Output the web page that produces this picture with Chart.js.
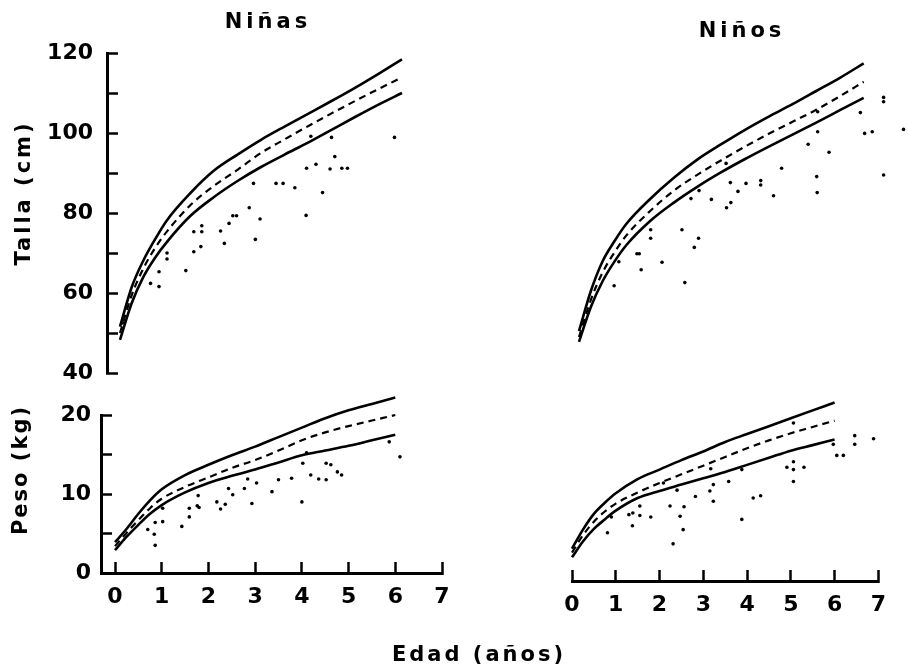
<!DOCTYPE html>
<html>
<head>
<meta charset="utf-8">
<script src="https://cdn.jsdelivr.net/npm/chart.js@4.4.1/dist/chart.umd.min.js"></script>
<style>
  html, body { margin: 0; padding: 0; background: #fff; }
  #wrap { position: relative; width: 908px; height: 668px; overflow: hidden; }
  #wrap canvas { position: absolute; left: 0; top: 0; }
  .lbl { position: absolute; font-family: 'DejaVu Sans', sans-serif; font-weight: bold; font-size: 21px;
         color: #000; white-space: nowrap; transform: translate(-50%, -50%); }
  .rot { transform: translate(-50%, -50%) rotate(-90deg); }
</style>
</head>
<body>
<div id="wrap">
  <canvas id="tl" width="908" height="668"></canvas>
  <canvas id="tr" width="908" height="668"></canvas>
  <canvas id="bl" width="908" height="668"></canvas>
  <canvas id="br" width="908" height="668"></canvas>
  <div class="lbl" style="left:268px; top:21px; letter-spacing:4px;">Niñas</div>
  <div class="lbl" style="left:742px; top:30px; letter-spacing:4px;">Niños</div>
  <div class="lbl rot" style="left:23px; top:193px; letter-spacing:3px;">Talla (cm)</div>
  <div class="lbl rot" style="left:20px; top:470px; letter-spacing:2px;">Peso (kg)</div>
  <div class="lbl" style="left:479px; top:654px; letter-spacing:3px;">Edad (años)</div>
</div>
<script>
// edades de las curvas de referencia (años)
const ages = [0, 0.25, 0.5, 0.75, 1, 1.5, 2, 2.5, 3, 3.5, 4, 4.5, 5, 5.5, 6];

// Talla (cm) - niñas
const tallaNinasSup = [51.6, 61.5, 68.2, 73.5, 78.2, 85.0, 90.6, 94.6, 98.3, 101.6, 104.8, 108.0, 111.3, 114.8, 118.4];
const tallaNinasMed = [50.0, 59.5, 66.2, 71.3, 75.4, 82.0, 86.8, 90.8, 95.0, 98.4, 101.7, 104.9, 108.0, 111.0, 113.9];
const tallaNinasInf = [48.3, 57.5, 64.1, 68.9, 72.8, 79.3, 84.0, 88.0, 91.5, 94.6, 97.6, 100.8, 104.0, 107.1, 110.0];
const tallaNinasEdad = [0.05, 0.65, 0.83, 0.83, 1.0, 1.0, 1.40, 1.57, 1.72, 1.57, 1.74, 1.74, 2.14, 2.22, 2.32, 2.40, 2.48,
  2.75, 2.84, 2.88, 2.98, 3.32, 3.47, 3.72, 3.96, 3.97, 4.06, 4.17, 4.31, 4.47, 4.50, 4.57, 4.72, 4.84, 5.84];
const tallaNinasValor = [52.5, 62.4, 61.6, 65.3, 68.5, 70.0, 65.6, 70.3, 71.6, 75.3, 75.3, 76.8, 75.5, 72.4, 77.4, 79.3, 79.3,
  81.3, 87.4, 73.4, 78.5, 87.4, 87.4, 86.3, 79.4, 91.2, 99.2, 92.2, 85.1, 91.0, 98.9, 94.1, 91.2, 91.2, 98.9];

// Talla (cm) - niños
const tallaNinosSup = [50.5, 60.5, 68.0, 73.0, 77.3, 83.5, 88.8, 93.4, 97.2, 100.8, 104.1, 107.2, 110.5, 113.8, 117.4];
const tallaNinosMed = [49.0, 58.3, 65.2, 70.2, 74.4, 80.5, 85.6, 89.6, 93.2, 96.6, 99.8, 102.8, 105.8, 109.2, 112.8];
const tallaNinosInf = [47.8, 56.5, 63.0, 67.9, 72.0, 78.0, 82.6, 86.6, 90.2, 93.5, 96.6, 99.6, 102.6, 105.7, 108.8];
const tallaNinosEdad = [0.74, 0.84, 1.22, 1.27, 1.31, 1.51, 1.51, 1.75, 2.17, 2.23, 2.36, 2.43, 2.52, 2.53, 2.79, 3.10, 3.11,
  3.19, 3.20, 3.35, 3.52, 3.83, 3.83, 4.10, 4.27, 4.83, 5.01, 5.02, 5.03, 5.03, 5.27, 5.93, 6.02, 6.18, 6.42, 6.42, 6.42, 6.84];
const tallaNinosValor = [61.8, 67.8, 69.8, 69.8, 65.8, 75.8, 73.7, 67.7, 75.8, 62.6, 83.6, 71.4, 73.7, 85.6, 83.4, 92.4, 81.3,
  87.6, 82.6, 85.4, 87.4, 88.1, 87.0, 84.3, 91.2, 97.2, 89.1, 85.1, 105.3, 100.3, 95.2, 105.1, 99.9, 100.3, 108.9, 107.8, 89.5, 100.9];

// Peso (kg) - niñas
const pesoNinasSup = [3.9, 5.6, 7.5, 9.2, 10.6, 12.4, 13.7, 14.9, 16.0, 17.2, 18.4, 19.6, 20.6, 21.4, 22.2];
const pesoNinasMed = [3.4, 5.1, 6.7, 8.2, 9.4, 10.9, 12.1, 13.3, 14.3, 15.5, 16.8, 17.8, 18.6, 19.3, 20.0];
const pesoNinasInf = [2.9, 4.6, 6.1, 7.5, 8.6, 10.2, 11.4, 12.3, 13.1, 14.0, 14.9, 15.5, 16.1, 16.8, 17.5];
const pesoNinasEdad = [0.70, 0.86, 0.84, 0.86, 1.02, 1.02, 1.43, 1.59, 1.59, 1.76, 1.80, 1.78, 2.18, 2.26, 2.36, 2.43, 2.52,
  2.77, 2.84, 2.93, 3.03, 3.36, 3.50, 3.78, 4.00, 4.02, 4.10, 4.19, 4.36, 4.52, 4.52, 4.62, 4.76, 4.85, 5.87, 6.10];
const pesoNinasValor = [5.5, 6.4, 4.9, 3.5, 6.5, 8.2, 5.9, 7.1, 8.2, 8.5, 8.3, 9.8, 9.0, 8.1, 8.7, 10.7, 9.9,
  10.7, 11.9, 8.8, 11.4, 10.3, 11.8, 12.0, 9.0, 13.9, 15.2, 12.4, 11.9, 11.8, 13.9, 13.7, 12.8, 12.4, 16.6, 14.7];

// Peso (kg) - niños
const pesoNinosSup = [4.1, 6.5, 8.5, 9.9, 11.1, 12.9, 14.1, 15.3, 16.4, 17.6, 18.6, 19.6, 20.6, 21.6, 22.6];
const pesoNinosMed = [3.6, 5.8, 7.5, 8.8, 9.8, 11.2, 12.4, 13.5, 14.6, 15.7, 16.8, 17.8, 18.7, 19.5, 20.3];
const pesoNinosInf = [3.0, 5.0, 6.6, 7.8, 8.9, 10.5, 11.4, 12.2, 13.0, 13.8, 14.7, 15.6, 16.5, 17.2, 17.9];
const pesoNinosEdad = [0.81, 0.90, 1.38, 1.30, 1.39, 1.55, 1.55, 1.80, 2.09, 2.24, 2.31, 2.40, 2.47, 2.54, 2.56, 2.82, 3.15,
  3.17, 3.23, 3.23, 3.58, 3.88, 3.88, 4.14, 4.31, 4.91, 5.06, 5.06, 5.06, 5.06, 5.30, 5.97, 6.05, 6.20, 6.46, 6.46, 6.89];
const pesoNinosValor = [6.1, 8.1, 7.0, 8.4, 8.6, 9.5, 8.3, 8.1, 12.4, 9.5, 4.7, 11.5, 8.2, 6.5, 9.4, 10.7, 11.4,
  14.2, 12.2, 10.1, 12.6, 14.1, 7.8, 10.5, 10.8, 14.4, 20.0, 15.1, 14.1, 12.6, 14.4, 17.3, 15.9, 15.9, 18.4, 17.3, 18.0];

const W = 908, H = 668;
const tickFont = { family: 'DejaVu Sans', size: 22, weight: 'bold' };

function makePanel(id, area, xr, yr, curves, ptX, ptY, axes) {
  const datasets = curves.map((c, i) => ({
    data: ages.map((a, j) => ({ x: a, y: c[j] })),
    showLine: true,
    borderColor: '#000',
    borderWidth: i === 1 ? 2.2 : 2.6,
    borderDash: i === 1 ? [7, 5] : [],
    pointRadius: 0,
    cubicInterpolationMode: 'monotone',
    clip: false
  }));
  datasets.push({
    data: ptX.map((x, j) => ({ x: x, y: ptY[j] })),
    showLine: false,
    pointRadius: 1.8,
    pointBackgroundColor: '#000',
    pointBorderWidth: 0,
    clip: false
  });

  // las marcas de los ejes van hacia dentro (tickLength negativo)
  const xScale = {
    type: 'linear', min: xr[0], max: xr[1], display: !!axes.x,
    border: { display: true, width: 3, color: '#000' },
    grid: { display: true, drawOnChartArea: false, drawTicks: true, tickLength: -11, tickWidth: 2.5, tickColor: '#000' },
    ticks: { stepSize: 1, includeBounds: false, autoSkip: false, maxRotation: 0, padding: 22, color: '#000', font: tickFont }
  };
  if (axes.x) xScale.afterFit = s => { s.height = H - area.bottom; };

  const yScale = {
    type: 'linear', min: yr[0], max: yr[1], display: !!axes.y,
    border: { display: true, width: 3, color: '#000' },
    grid: { display: true, drawOnChartArea: false, drawTicks: true, tickLength: -11, tickWidth: 2.5, tickColor: '#000' },
    ticks: {
      stepSize: axes.yStep || 10, includeBounds: false, autoSkip: false, padding: axes.yPad || 25,
      color: '#000', font: tickFont,
      callback: v => (axes.yLabelEvery && v % axes.yLabelEvery === 0) ? v : ''
    }
  };
  if (axes.y) yScale.afterFit = s => { s.width = area.left; };

  new Chart(document.getElementById(id), {
    type: 'scatter',
    data: { datasets: datasets },
    options: {
      responsive: false,
      animation: false,
      events: [],
      layout: {
        padding: {
          left: axes.y ? 0 : area.left,
          right: W - area.right,
          top: area.top,
          bottom: axes.x ? 0 : H - area.bottom
        }
      },
      plugins: { legend: { display: false }, tooltip: { enabled: false } },
      scales: { x: xScale, y: yScale }
    }
  });
}

// arriba izquierda: talla niñas (con eje y)
makePanel('tl', { left: 107, right: 430.2, top: 53, bottom: 373 }, [-0.2766, 6.6], [40, 120],
  [tallaNinasSup, tallaNinasMed, tallaNinasInf], tallaNinasEdad, tallaNinasValor,
  { y: true, yStep: 10, yLabelEvery: 20, yPad: 25 });

// arriba derecha: talla niños (sin ejes)
makePanel('tr', { left: 579, right: 906.4, top: 53, bottom: 373 }, [0, 6.85], [40, 120],
  [tallaNinosSup, tallaNinosMed, tallaNinosInf], tallaNinosEdad, tallaNinosValor,
  {});

// abajo izquierda: peso niñas
makePanel('bl', { left: 101, right: 442, top: 415, bottom: 573 }, [-0.3, 7], [0, 20],
  [pesoNinasSup, pesoNinasMed, pesoNinasInf], pesoNinasEdad, pesoNinasValor,
  { x: true, y: true, yStep: 5, yLabelEvery: 10, yPad: 21 });

// abajo derecha: peso niños (solo eje x)
makePanel('br', { left: 572, right: 904, top: 423, bottom: 581 }, [0, 7], [0, 20],
  [pesoNinosSup, pesoNinosMed, pesoNinosInf], pesoNinosEdad, pesoNinosValor,
  { x: true });
</script>
</body>
</html>
